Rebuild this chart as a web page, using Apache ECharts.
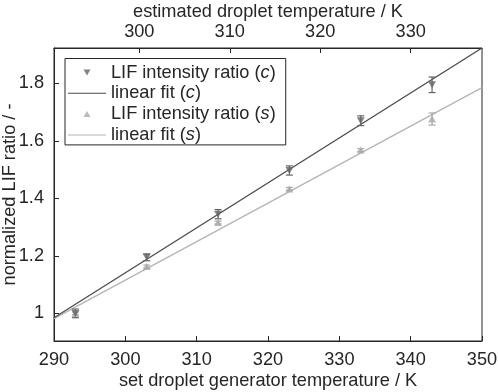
<!DOCTYPE html>
<html>

<head>
  <meta charset="utf-8" />
  <title>Normalized LIF ratio vs temperature</title>
  <script src="https://cdn.jsdelivr.net/npm/echarts@6/dist/echarts.min.js"></script>
</head>

<body style="margin: 0;">
  <div id="lifChart" style="width: 498px; height: 392px;"></div>
  <script type="text/javascript">

    // Measured points (set generator temperature in K)
    let temps = [293, 303, 313, 323, 333, 343];
    let ratioC = [1.0, 1.195, 1.345, 1.497, 1.67, 1.795];
    let errC = [0.015, 0.012, 0.016, 0.016, 0.017, 0.027];
    let ratioS = [1.0, 1.163, 1.316, 1.433, 1.568, 1.676];
    let errS = [0.005, 0.005, 0.005, 0.005, 0.005, 0.021];

    // Linear fits, evaluated at the axis ends
    let fitX = [290, 350];
    let fitC = [0.985, 1.923];
    let fitS = [0.982, 1.785];

    // Tick labels
    let yTicks = [1, 1.2, 1.4, 1.6, 1.8];
    let topTicks = [300, 310, 320, 330];

    let font = 'Liberation Sans, Arial, sans-serif';
    let fs = 18.2;
    let ink = '#262626';
    let darkLine = '#4a4a4a', darkMark = '#656565';
    let lightLine = '#b4b4b4', lightMark = '#a9a9a9';

    function pairs(xs, ys) {
      return xs.map(function (x, i) { return [x, ys[i]]; });
    }

    function errorBars(name, values, errors, color) {
      return {
        name: name,
        type: 'custom',
        z: 3,
        data: temps.map(function (t, i) { return [t, values[i] - errors[i], values[i] + errors[i]]; }),
        encode: { x: 0, y: [1, 2] },
        renderItem: function (params, api) {
          var lo = api.coord([api.value(0), api.value(1)]);
          var hi = api.coord([api.value(0), api.value(2)]);
          var w = 3.5;
          var style = { stroke: color, lineWidth: 1.2, fill: null };
          return {
            type: 'group',
            children: [
              { type: 'line', shape: { x1: lo[0], y1: lo[1], x2: hi[0], y2: hi[1] }, style: style },
              { type: 'line', shape: { x1: lo[0] - w, y1: lo[1], x2: lo[0] + w, y2: lo[1] }, style: style },
              { type: 'line', shape: { x1: hi[0] - w, y1: hi[1], x2: hi[0] + w, y2: hi[1] }, style: style }
            ]
          };
        }
      };
    }

    // legend icons padded to 38x9 with bare moveTo points
    let iconDown = 'path://M0,0 M38,9 M15.5,1.5 L22.5,1.5 L19,7.5 Z';
    let iconUp = 'path://M0,0 M38,9 M15.5,7.5 L22.5,7.5 L19,1.5 Z';
    let iconLine = 'path://M0,0 M38,9 M0,4 L38,4 L38,5 L0,5 Z';

    var chart = echarts.init(document.getElementById('lifChart'));

    var option = {
      animation: false,
      textStyle: { fontFamily: font },
      grid: {
        left: 54,
        right: 16,
        top: 48,
        bottom: 51,
        outerBoundsMode: 'none',
        containLabel: false,
        show: true,
        borderColor: ink,
        borderWidth: 1
      },
      legend: {
        orient: 'vertical',
        left: 65,
        top: 58.5,
        itemWidth: 38,
        itemHeight: 9,
        itemGap: 0.8,
        padding: [4, 10, 0, 3],
        borderColor: ink,
        borderWidth: 1,
        backgroundColor: '#fff',
        selectedMode: false,
        textStyle: {
          fontSize: fs,
          lineHeight: 20,
          color: ink,
          fontFamily: font,
          rich: {
            i: { fontStyle: 'italic', fontSize: fs, lineHeight: 20, color: ink, fontFamily: font }
          }
        },
        formatter: function (name) {
          return name.replace(/\((\w)\)/, '({i|$1})');
        },
        data: [
          { name: 'LIF intensity ratio (c)', icon: iconDown, itemStyle: { color: darkMark, borderWidth: 0 } },
          { name: 'linear fit (c)', icon: iconLine, itemStyle: { color: darkLine, borderWidth: 0 } },
          { name: 'LIF intensity ratio (s)', icon: iconUp, itemStyle: { color: lightMark, borderWidth: 0 } },
          { name: 'linear fit (s)', icon: iconLine, itemStyle: { color: lightLine, borderWidth: 0 } }
        ]
      },
      xAxis: [
        {
          type: 'value',
          position: 'bottom',
          min: 290,
          max: 350,
          interval: 10,
          name: 'set droplet generator temperature / K',
          nameLocation: 'middle',
          nameMoveOverlap: false,
          nameGap: 31,
          nameTextStyle: { fontSize: fs, color: ink },
          axisLine: { lineStyle: { color: ink } },
          axisTick: { inside: true, length: 5, lineStyle: { color: ink } },
          axisLabel: { fontSize: fs, color: ink, margin: 10 },
          splitLine: { show: false }
        },
        {
          type: 'value',
          position: 'top',
          min: 290.57,
          max: 337.88,
          name: 'estimated droplet temperature / K',
          nameLocation: 'middle',
          nameMoveOverlap: false,
          nameGap: 27,
          nameTextStyle: { fontSize: fs, color: ink },
          axisLine: { lineStyle: { color: ink } },
          axisTick: { inside: true, length: 5, customValues: topTicks, lineStyle: { color: ink } },
          axisLabel: { fontSize: fs, color: ink, margin: 7, customValues: topTicks },
          splitLine: { show: false }
        }
      ],
      yAxis: {
        type: 'value',
        min: 0.904,
        max: 1.923,
        name: 'normalized LIF ratio / -',
        nameLocation: 'middle',
        nameMoveOverlap: false,
        nameGap: 35,
        nameTextStyle: { fontSize: fs, color: ink },
        axisLine: { lineStyle: { color: ink } },
        axisTick: { inside: true, length: 5, customValues: yTicks, lineStyle: { color: ink } },
        axisLabel: { fontSize: fs, color: ink, margin: 10, customValues: yTicks },
        splitLine: { show: false }
      },
      series: [
        {
          name: 'linear fit (s)',
          type: 'line',
          data: pairs(fitX, fitS),
          showSymbol: false,
          color: lightLine,
          lineStyle: { color: lightLine, width: 1.3 },
          z: 2
        },
        {
          name: 'linear fit (c)',
          type: 'line',
          data: pairs(fitX, fitC),
          showSymbol: false,
          color: darkLine,
          lineStyle: { color: darkLine, width: 1.3 },
          z: 2
        },
        errorBars('err (s)', ratioS, errS, lightMark),
        {
          name: 'LIF intensity ratio (s)',
          type: 'scatter',
          data: pairs(temps, ratioS),
          symbol: 'triangle',
          symbolSize: [8, 7],
          color: lightMark,
          z: 4
        },
        errorBars('err (c)', ratioC, errC, darkMark),
        {
          name: 'LIF intensity ratio (c)',
          type: 'scatter',
          data: pairs(temps, ratioC),
          symbol: 'triangle',
          symbolRotate: 180,
          symbolSize: [8, 7],
          color: darkMark,
          z: 4
        }
      ]
    };

    chart.setOption(option);
  </script>
</body>

</html>
